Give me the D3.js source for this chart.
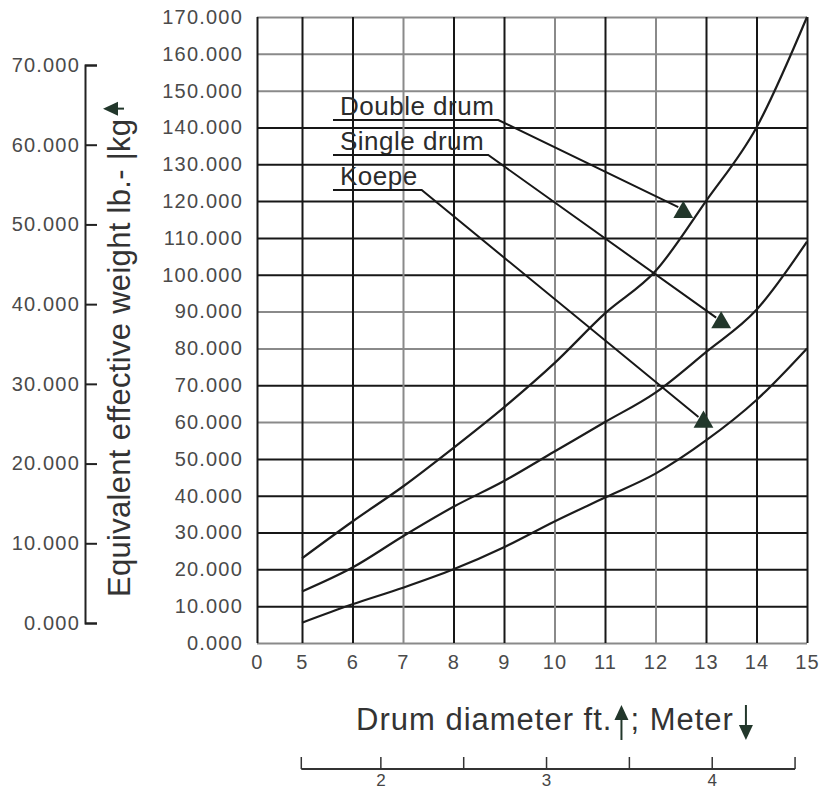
<!DOCTYPE html>
<html>
<head>
<meta charset="utf-8">
<script src="https://cdn.jsdelivr.net/npm/d3@7"></script>
<style>
body { margin: 0; background: #fff; }
svg text { font-family: "Liberation Sans", Arial, sans-serif; }
</style>
</head>
<body>
<svg id="chart" width="822" height="790"></svg>
<script>
// values, lb per drum diameter in ft
var diameterFt = [5, 6, 7, 8, 9, 10, 11, 12, 13, 14, 15]
var doubleDrum = [23000, 33000, 42500, 53000, 64000, 76000, 89500, 101000, 120000, 140000, 170000]
var singleDrum = [14000, 20500, 29000, 37000, 44000, 52000, 60000, 68000, 79000, 90500, 109000]
var koepe = [5500, 10500, 15000, 20000, 26000, 33000, 39500, 46000, 55000, 66000, 80000]
var seriesNames = ["Double drum", "Single drum", "Koepe"]

var ftTicks = [0, 5, 6, 7, 8, 9, 10, 11, 12, 13, 14, 15]
var lbTicks = d3.range(0, 170001, 10000)
var kgTicks = d3.range(0, 70001, 10000)
var meterTicks = [1.5, 2, 2.5, 3, 3.5, 4, 4.5]
var meterLabels = [2, 3, 4]

// where the label arrows point (ft, lb)
var arrowFt = [12.55, 13.3, 12.95]
var arrowLb = [117000, 87000, 60000]

var yTitle = "Equivalent effective weight lb.- |kg"
var ftPerMeter = 3.2808

// scan artefacts: some grid lines came out grey
var faintFt = [7, 10, 12]
var faintLb = [0, 60000, 80000, 90000, 150000, 160000, 170000]

var ink = "#171717"
var arrowInk = "#22372b"
var svg = d3.select("#chart")

var x = d3.scaleLinear().domain([0, 5, 15]).range([257, 302, 807])
var y = d3.scaleLinear().domain([0, 170000]).range([643, 17])
var yKg = d3.scaleLinear().domain([0, 70000]).range([623, 65])

function thousands(v) {
    return (v / 1000) + ".000"
}

drawGrid()
drawCurves()
drawLegend()
drawKgAxis()
drawTitles()
drawMeterAxis()

function styleAxis(g, size) {
    g.attr("font-family", "Liberation Sans, Arial, sans-serif")
        .attr("font-size", size)
    g.selectAll(".tick text")
        .attr("fill", "#4a4a4a")
        .attr("letter-spacing", 1.2)
}

function drawGrid() {
    var gy = svg.append("g")
        .attr("transform", "translate(257,0)")
        .call(d3.axisLeft(y).tickValues(lbTicks).tickSize(-550).tickPadding(14).tickFormat(thousands))
    gy.select(".domain").remove()
    gy.selectAll(".tick line")
        .attr("stroke", function (d) { return faintLb.indexOf(d) > -1 ? "#8a8a8a" : ink })
        .attr("stroke-width", 2)
    styleAxis(gy, 20)

    var gx = svg.append("g")
        .attr("transform", "translate(0,643)")
        .call(d3.axisBottom(x).tickValues(ftTicks).tickSize(-626).tickPadding(12).tickFormat(d3.format("d")))
    gx.select(".domain").remove()
    gx.selectAll(".tick line")
        .attr("stroke", function (d) { return faintFt.indexOf(d) > -1 ? "#8a8a8a" : ink })
        .attr("stroke-width", 2)
    styleAxis(gx, 20)
}

function drawCurves() {
    var line = d3.line()
        .x(function (d, i) { return x(diameterFt[i]) })
        .y(function (d) { return y(d) })
        .curve(d3.curveMonotoneX)

    svg.append("g").selectAll("path")
        .data([doubleDrum, singleDrum, koepe])
        .join("path")
        .attr("d", line)
        .attr("fill", "none")
        .attr("stroke", "#1c1c1c")
        .attr("stroke-width", 2.2)
}

function drawLegend() {
    var lg = svg.append("g")
    var left = 340
    seriesNames.forEach(function (name, i) {
        var base = 115 + i * 35
        var t = lg.append("text")
            .attr("x", left)
            .attr("y", base)
            .attr("font-size", 26)
            .attr("letter-spacing", 0.5)
            .attr("fill", "#2b2b2b")
            .text(name)
        var end = left + t.node().getComputedTextLength() + 4
        var ax = x(arrowFt[i]), ay = y(arrowLb[i])
        lg.append("path")
            .attr("d", "M" + (left - 7) + "," + (base + 5) + "H" + end + "L" + (ax - 5) + "," + (ay - 5))
            .attr("fill", "none")
            .attr("stroke", ink)
            .attr("stroke-width", 2)
        lg.append("path")
            .attr("d", d3.symbol(d3.symbolTriangle, 170)())
            .attr("transform", "translate(" + ax + "," + ay + ")")
            .attr("fill", arrowInk)
    })
}

function drawKgAxis() {
    var gk = svg.append("g")
        .attr("transform", "translate(85,0)")
        .attr("color", "#222")
        .call(d3.axisLeft(yKg).tickValues(kgTicks).tickSize(-12).tickPadding(5).tickFormat(thousands))
    gk.selectAll("line, path").attr("stroke-width", 2)
    styleAxis(gk, 20)
}

function arrowUp(g, ax, top, bottom) {
    g.append("path")
        .attr("d", "M" + ax + "," + bottom + "V" + (top + 12))
        .attr("stroke", arrowInk).attr("stroke-width", 2)
    g.append("path")
        .attr("d", "M" + (ax - 7) + "," + (top + 15) + "L" + ax + "," + top + "L" + (ax + 7) + "," + (top + 15) + "Z")
        .attr("fill", arrowInk)
}

function arrowDown(g, ax, top, bottom) {
    g.append("path")
        .attr("d", "M" + ax + "," + top + "V" + (bottom - 12))
        .attr("stroke", arrowInk).attr("stroke-width", 2)
    g.append("path")
        .attr("d", "M" + (ax - 7) + "," + (bottom - 15) + "L" + ax + "," + bottom + "L" + (ax + 7) + "," + (bottom - 15) + "Z")
        .attr("fill", arrowInk)
}

function drawTitles() {
    var yt = svg.append("g").attr("transform", "translate(130,597) rotate(-90)")
    var t = yt.append("text").attr("font-size", 31).attr("letter-spacing", 0.3).attr("fill", "#333").text(yTitle)
    arrowUp(yt, t.node().getComputedTextLength() + 10, -27, -6)

    var xt = svg.append("g").attr("transform", "translate(356,730)")
    var t1 = xt.append("text").attr("font-size", 31).attr("letter-spacing", 1).attr("fill", "#333").text("Drum diameter ft.")
    var w1 = t1.node().getComputedTextLength()
    arrowUp(xt, w1 + 9, -25, 10)
    var t2 = xt.append("text").attr("x", w1 + 18).attr("font-size", 31).attr("letter-spacing", 1).attr("fill", "#333").text("; Meter")
    var w2 = t2.node().getComputedTextLength()
    arrowDown(xt, w1 + 18 + w2 + 12, -25, 10)
}

function drawMeterAxis() {
    var my = 769
    var gm = svg.append("g")
    gm.append("line")
        .attr("x1", x(meterTicks[0] * ftPerMeter))
        .attr("x2", x(meterTicks[meterTicks.length - 1] * ftPerMeter))
        .attr("y1", my).attr("y2", my)
        .attr("stroke", "#333").attr("stroke-width", 2)
    gm.selectAll(".mtick")
        .data(meterTicks)
        .join("line")
        .attr("class", "mtick")
        .attr("x1", function (d) { return x(d * ftPerMeter) })
        .attr("x2", function (d) { return x(d * ftPerMeter) })
        .attr("y1", my).attr("y2", my - 12)
        .attr("stroke", "#333").attr("stroke-width", 1.5)
    gm.selectAll(".mlabel")
        .data(meterLabels)
        .join("text")
        .attr("class", "mlabel")
        .attr("x", function (d) { return x(d * ftPerMeter) })
        .attr("y", my + 17)
        .attr("text-anchor", "middle")
        .attr("font-size", 17)
        .attr("fill", "#444")
        .text(function (d) { return d })
}
</script>
</body>
</html>
